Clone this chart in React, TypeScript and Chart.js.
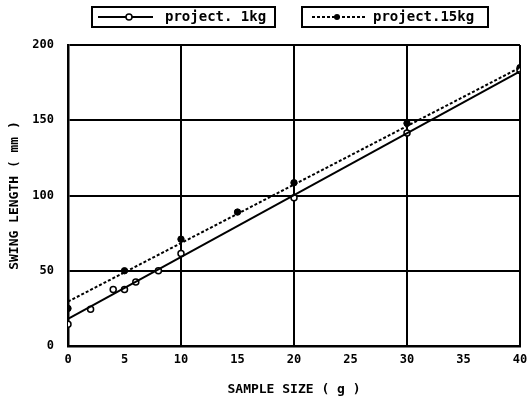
import React, { useEffect, useRef } from "react";
import { Chart, registerables } from "chart.js";

Chart.register(...registerables);

const xTicks = [0, 5, 10, 15, 20, 25, 30, 35, 40];
const yTicks = [0, 50, 100, 150, 200];

const kg1X = [0, 2, 4, 5, 6, 8, 10, 20, 30, 40];
const kg1Y = [14.5, 24.5, 37.5, 37.5, 42.5, 50, 61.5, 98.5, 141.5, 183];
const kg15X = [0, 5, 10, 15, 20, 30, 40];
const kg15Y = [25, 50, 71, 89, 108.5, 148, 185];

const fit1X = [0, 40];
const fit1Y = [18, 182.5];
const fit15X = [0, 40];
const fit15Y = [29.5, 185];

const legendLabels = ["project. 1kg", "project.15kg"];
const xTitle = "SAMPLE SIZE ( g )";
const yTitle = "SWING LENGTH ( mm )";

const MONO = '"DejaVu Sans Mono", "Liberation Mono", monospace';

const pts = (xs: number[], ys: number[]) => xs.map((x, i) => ({ x, y: ys[i] }));

const legendPlugin = {
  id: "boxLegend",
  afterDraw(chart: any) {
    const ctx = chart.ctx as CanvasRenderingContext2D;
    ctx.save();
    ctx.strokeStyle = "#000";
    ctx.fillStyle = "#000";
    ctx.lineWidth = 2;
    // box 1
    ctx.strokeRect(92, 7, 183, 20);
    ctx.beginPath();
    ctx.moveTo(98, 17);
    ctx.lineTo(153, 17);
    ctx.stroke();
    ctx.beginPath();
    ctx.arc(129, 17, 3, 0, Math.PI * 2);
    ctx.fillStyle = "#fff";
    ctx.fill();
    ctx.lineWidth = 1.5;
    ctx.stroke();
    // box 2
    ctx.lineWidth = 2;
    ctx.strokeRect(302, 7, 186, 20);
    ctx.setLineDash([3, 2]);
    ctx.beginPath();
    ctx.moveTo(312, 17);
    ctx.lineTo(367, 17);
    ctx.stroke();
    ctx.setLineDash([]);
    ctx.fillStyle = "#000";
    ctx.beginPath();
    ctx.arc(337, 17, 3, 0, Math.PI * 2);
    ctx.fill();
    // texts
    ctx.font = `bold 14px ${MONO}`;
    ctx.textBaseline = "middle";
    ctx.textAlign = "left";
    ctx.fillText(legendLabels[0], 165, 17);
    ctx.fillText(legendLabels[1], 373, 17);
    ctx.restore();
  },
};

export default function App() {
  const ref = useRef<HTMLCanvasElement>(null);
  useEffect(() => {
    if (!ref.current) return;
    const chart = new Chart(ref.current, {
      type: "scatter",
      data: {
        datasets: [
          {
            label: "fit 1kg",
            data: pts(fit1X, fit1Y),
            showLine: true,
            borderColor: "#000",
            borderWidth: 2,
            pointRadius: 0,
          },
          {
            label: "fit 15kg",
            data: pts(fit15X, fit15Y),
            showLine: true,
            borderColor: "#000",
            borderWidth: 2,
            borderDash: [3, 2],
            pointRadius: 0,
          },
          {
            label: legendLabels[0],
            data: pts(kg1X, kg1Y),
            pointRadius: 3,
            pointBackgroundColor: "#fff",
            pointBorderColor: "#000",
            pointBorderWidth: 1.5,
          },
          {
            label: legendLabels[1],
            data: pts(kg15X, kg15Y),
            pointRadius: 3.2,
            pointBackgroundColor: "#000",
            pointBorderColor: "#000",
            pointBorderWidth: 1,
          },
        ],
      },
      options: {
        animation: false,
        responsive: false,
        maintainAspectRatio: false,
        layout: { padding: { top: 45, right: 0, left: 0, bottom: 0 } },
        plugins: { legend: { display: false }, tooltip: { enabled: false } },
        scales: {
          x: {
            type: "linear",
            min: 0,
            max: 40,
            afterFit: (s: any) => {
              s.height = 56;
              s.paddingRight = 7;
              s.paddingLeft = 0;
            },
            afterBuildTicks: (s: any) => {
              s.ticks = xTicks.map((v) => ({ value: v }));
            },
            ticks: {
              color: "#000",
              padding: 7,
              font: { family: MONO, size: 12, weight: "bold" },
            },
            grid: {
              drawTicks: false,
              lineWidth: 2,
              color: (c: any) => (c.tick && c.tick.value % 10 === 0 ? "#000" : "rgba(0,0,0,0)"),
            },
            border: { display: true, color: "#000", width: 2.5 },
            title: {
              display: true,
              text: xTitle,
              color: "#000",
              font: { family: MONO, size: 13, weight: "bold", lineHeight: 1 },
              padding: { top: 0, bottom: 6 },
            },
          },
          y: {
            type: "linear",
            min: 0,
            max: 200,
            afterFit: (s: any) => {
              s.width = 68;
              s.paddingTop = 0;
              s.paddingBottom = 0;
            },
            afterBuildTicks: (s: any) => {
              s.ticks = yTicks.map((v) => ({ value: v }));
            },
            ticks: {
              color: "#000",
              padding: 14,
              font: { family: MONO, size: 12, weight: "bold" },
            },
            grid: { drawTicks: false, lineWidth: 2, color: "#000" },
            border: { display: true, color: "#000", width: 2.5 },
            title: {
              display: true,
              text: yTitle,
              color: "#000",
              font: { family: MONO, size: 13, weight: "bold", lineHeight: 1 },
              padding: { top: 8, bottom: 0 },
            },
          },
        },
      },
      plugins: [legendPlugin],
    } as any);
    return () => chart.destroy();
  }, []);
  return (
    <div style={{ position: "absolute", left: 0, top: 0, width: 527, height: 402, background: "#fff" }}>
      <canvas ref={ref} width={527} height={402} style={{ width: 527, height: 402 }} />
    </div>
  );
}
